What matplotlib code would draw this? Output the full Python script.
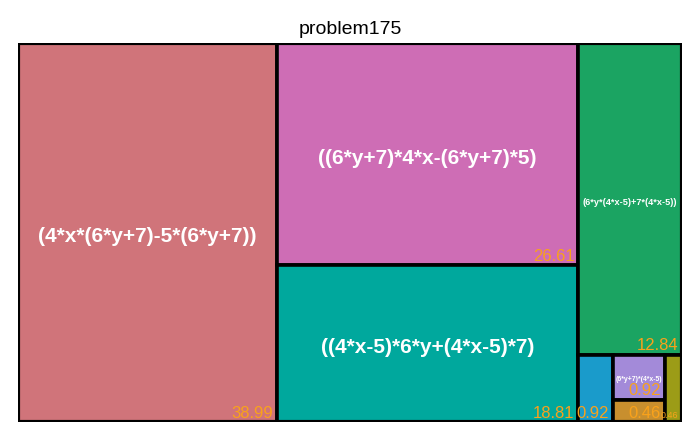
import matplotlib
matplotlib.use("Agg")
import matplotlib.pyplot as plt
from matplotlib.patches import Rectangle

plt.rcParams['font.family'] = ['Liberation Sans', 'DejaVu Sans']

names = ["(4*x*(6*y+7)-5*(6*y+7))", "((6*y+7)*4*x-(6*y+7)*5)",
         "((4*x-5)*6*y+(4*x-5)*7)", "(6*y*(4*x-5)+7*(4*x-5))",
         "", "(6*y+7)*(4*x-5)", "", ""]
values = [38.99, 26.61, 18.81, 12.84, 0.92, 0.92, 0.46, 0.46]
colors = ["#D0747A", "#CE6DB5", "#00A89D", "#1BA462",
          "#1A9BCB", "#A38AD9", "#C88F2E", "#9C9C17"]
# grouping of the item indices (nested slices)
groups = [0, [[1, 2], [3, [4, [5, 6], 7]]]]

title = "problem175"

def total(node):
    if isinstance(node, int):
        return values[node]
    return sum(total(c) for c in node)

rects = {}
def layout(node, x, y, w, h):
    if isinstance(node, int):
        rects[node] = (x, y, w, h)
        return
    t = total(node)
    if w >= h:
        cx = x
        for c in node:
            cw = w * total(c) / t
            layout(c, cx, y, cw, h)
            cx += cw
    else:
        cy = y
        for c in node:
            ch = h * total(c) / t
            layout(c, x, cy, w, ch)
            cy += ch

W, H = 664.0, 379.0
layout(groups, 0, 0, W, H)

fig = plt.figure(figsize=(7.0, 4.33), dpi=100)
ax = fig.add_axes([18/700, 11/433, 664/700, 379/433])
ax.set_xlim(0, W)
ax.set_ylim(H, 0)
ax.axis('off')

for i, (x, y, w, h) in rects.items():
    ax.add_patch(Rectangle((x, y), w, h, facecolor=colors[i],
                           edgecolor='black', linewidth=2.6, zorder=1))

fig.canvas.draw()
renderer = fig.canvas.get_renderer()

def fit_text(t, maxsize, maxw):
    bb = t.get_window_extent(renderer)
    if bb.width > maxw:
        t.set_fontsize(maxsize * maxw / bb.width)

NAME_FS = 15
VAL_FS = 12
for i, (x, y, w, h) in rects.items():
    if names[i]:
        t = ax.text(x + w/2, y + h/2 + min(4, 0.04 * h), names[i], color='white',
                    fontweight='bold', fontsize=NAME_FS, ha='center', va='center', zorder=3)
        fit_text(t, NAME_FS, 0.9 * w)
    v = ax.text(x + w - 4, y + h - 1.5, f"{values[i]:.2f}", color='#F9A21B',
                fontsize=VAL_FS, ha='right', va='bottom', zorder=3)
    fit_text(v, VAL_FS, w)

ax.add_patch(Rectangle((0, 0), W, H, fill=False, edgecolor='black',
                       linewidth=3, zorder=4))
fig.text(350/700, 1 - 29/433, title, ha='center', va='center', fontsize=14)

fig.savefig("out.png", dpi=100)
